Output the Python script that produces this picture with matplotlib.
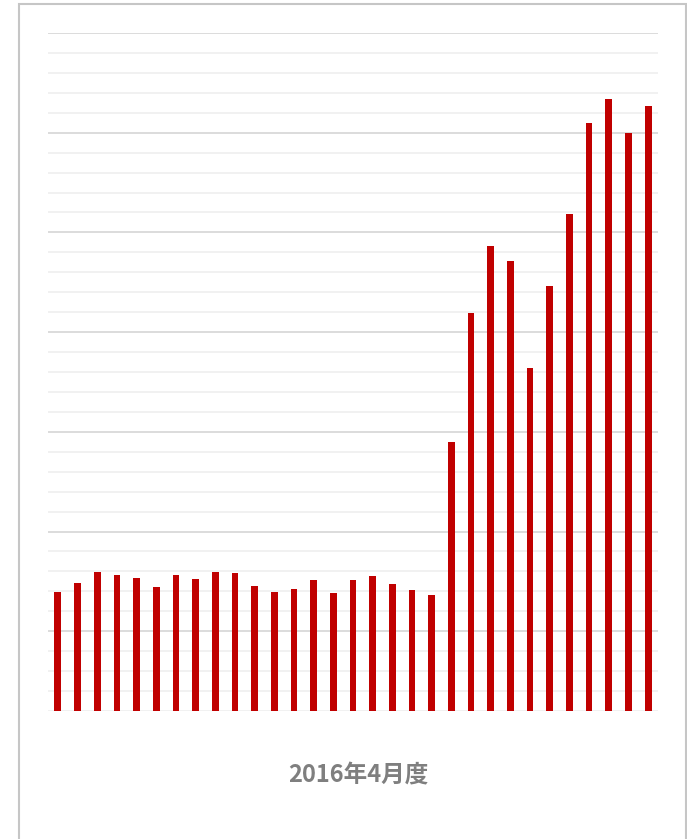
import matplotlib
matplotlib.use('Agg')
import matplotlib.pyplot as plt
from matplotlib.patches import Rectangle
import numpy as np

plt.rcParams['font.family'] = ['Noto Sans CJK JP', 'DejaVu Sans']

# 2016年4月 日別の値（目盛りなし、グリッド単位で読み取り）
days = list(range(1, 32))
values = [5.98, 6.43, 6.99, 6.82, 6.65, 6.20, 6.81, 6.62, 6.97, 6.94,
          6.27, 5.98, 6.10, 6.58, 5.92, 6.58, 6.77, 6.37, 6.07, 5.80,
          13.48, 19.94, 23.32, 22.55, 17.20, 21.33, 24.92, 29.49, 30.68, 28.97,
          30.34]
title = "2016年4月度"

W, H = 687, 839
fig = plt.figure(figsize=(W / 100, H / 100), dpi=100)

# 外枠
fig.patches.append(Rectangle((19 / W, -0.01), (686 - 19) / W, 1 - 4 / H + 0.01,
                             transform=fig.transFigure, fill=False,
                             edgecolor='#c6c6c6', linewidth=1.5))

ax = fig.add_axes([48 / W, 1 - 711 / H, (658 - 48) / W, (711 - 33) / H])
x = np.arange(len(days))
ax.bar(x, values, width=0.34, color='#c00000', zorder=3)

ax.set_xlim(-0.5, len(days) - 0.5)
ax.set_ylim(0, 34)

# グリッド
for y in np.arange(0, 35, 1):
    if (y - 4) % 5 == 0:
        ax.axhline(y, color='#d9d9d9', linewidth=1.3, zorder=1)
    else:
        ax.axhline(y, color='#f0f0f0', linewidth=1.3, zorder=1)

ax.set_xticks([])
ax.set_yticks([])
for s in ax.spines.values():
    s.set_visible(False)

fig.text(358 / W, 1 - 775 / H, title, ha='center', va='center',
         fontsize=17, fontweight='bold', color='#7f7f7f')

fig.savefig('out.png', dpi=100)
